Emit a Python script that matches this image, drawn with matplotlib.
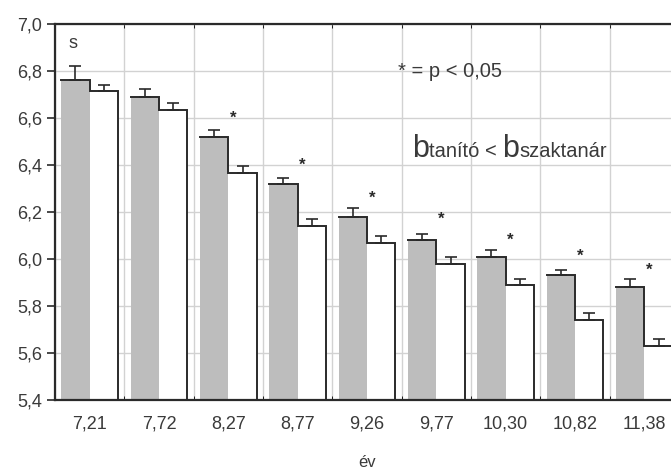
import numpy as np
import matplotlib
matplotlib.use("Agg")
import matplotlib.pyplot as plt
from matplotlib.offsetbox import TextArea, HPacker, AnchoredOffsetbox

plt.rcParams['font.family'] = ['Liberation Sans', 'DejaVu Sans']

# data
years = ['7,21', '7,72', '8,27', '8,77', '9,26', '9,77', '10,30', '10,82', '11,38']
tanito = [6.76, 6.69, 6.52, 6.32, 6.18, 6.08, 6.01, 5.93, 5.88]
tanito_err = [0.06, 0.035, 0.03, 0.025, 0.035, 0.025, 0.03, 0.025, 0.035]
szaktanar = [6.715, 6.635, 6.365, 6.14, 6.07, 5.98, 5.89, 5.74, 5.63]
szaktanar_err = [0.025, 0.03, 0.03, 0.03, 0.03, 0.03, 0.025, 0.03, 0.03]
star_groups = [2, 3, 4, 5, 6, 7, 8]
star_y = [6.60, 6.40, 6.26, 6.17, 6.08, 6.01, 5.95]

gray = '#bdbdbd'
grid_c = '#d2d2d2'
ink = '#2a2a2a'
txt = '#3a3a3a'

fig = plt.figure(figsize=(6.71, 4.73), dpi=100)
ax = fig.add_axes([55/671, 73/473, 624/671, 376/473])

x = np.arange(len(years))
w = 0.41
ax.bar(x - w/2, tanito, width=w, bottom=0, color=gray, edgecolor='none', zorder=2)
ax.bar(x + w/2, szaktanar, width=w, bottom=0, color='white', edgecolor='none', zorder=2)

# step outline: gray top, drop to white top, white right side
for i in range(len(years)):
    xs = [i - w, i, i, i + w, i + w]
    ys = [tanito[i], tanito[i], szaktanar[i], szaktanar[i], 5.4]
    ax.plot(xs, ys, color=ink, lw=1.4, zorder=3, solid_joinstyle='miter')

ax.errorbar(x - w/2, tanito, yerr=[np.zeros(len(x)), tanito_err], fmt='none',
            ecolor=ink, elinewidth=1.2, capsize=4.5, capthick=1.2, zorder=4)
ax.errorbar(x + w/2, szaktanar, yerr=[np.zeros(len(x)), szaktanar_err], fmt='none',
            ecolor=ink, elinewidth=1.2, capsize=4.5, capthick=1.2, zorder=4)

for g, sy in zip(star_groups, star_y):
    ax.text(g + 0.07, sy, '*', ha='center', va='center', fontsize=12,
            fontweight='bold', color=ink, zorder=4)

ax.set_xlim(-0.5, 8.5)
ax.set_ylim(5.4, 7.0)
yt = np.arange(5.4, 7.01, 0.2)
ax.set_yticks(yt)
ax.set_yticklabels([f'{v:.1f}'.replace('.', ',') for v in yt], fontsize=13, color=txt)
ax.set_xticks(x)
ax.set_xticklabels(years, fontsize=13, color=txt)
ax.set_xticks(np.arange(-0.5, 9, 1), minor=True)
ax.tick_params(axis='x', which='major', length=0, pad=11)
ax.tick_params(axis='x', which='minor', direction='in', length=3, top=True, bottom=True)
ax.tick_params(axis='y', direction='out', length=6, width=1.2, color=ink, right=False, pad=3)

ax.grid(True, axis='y', color=grid_c, lw=1, zorder=0)
ax.grid(True, axis='x', which='minor', color=grid_c, lw=1, zorder=0)
ax.set_axisbelow(True)
for s in ['left', 'bottom', 'top']:
    ax.spines[s].set_linewidth(1.6)
    ax.spines[s].set_color(ink)
ax.spines['right'].set_visible(False)

ax.set_xlabel('év', fontsize=12, color=txt)
ax.xaxis.label.set_va('center')
ax.xaxis.set_label_coords(0.5, -0.165)

ax.text(-0.31, 6.915, 's', fontsize=13, color=txt, va='center')
ax.text(4.447, 6.796, '* = p < 0,05', fontsize=14.5, color=txt, va='center')

parts = [TextArea('b', textprops=dict(fontsize=22, color=txt)),
         TextArea('tanító < ', textprops=dict(fontsize=14.5, color=txt)),
         TextArea('b', textprops=dict(fontsize=22, color=txt)),
         TextArea('szaktanár', textprops=dict(fontsize=14.5, color=txt))]
box = HPacker(children=parts, align='baseline', pad=0, sep=0)
ab = AnchoredOffsetbox(loc='lower left', child=box, pad=0, frameon=False,
                       bbox_to_anchor=(4.65, 6.405), bbox_transform=ax.transData,
                       borderpad=0)
ax.add_artist(ab)

fig.savefig('out.png', dpi=100)
